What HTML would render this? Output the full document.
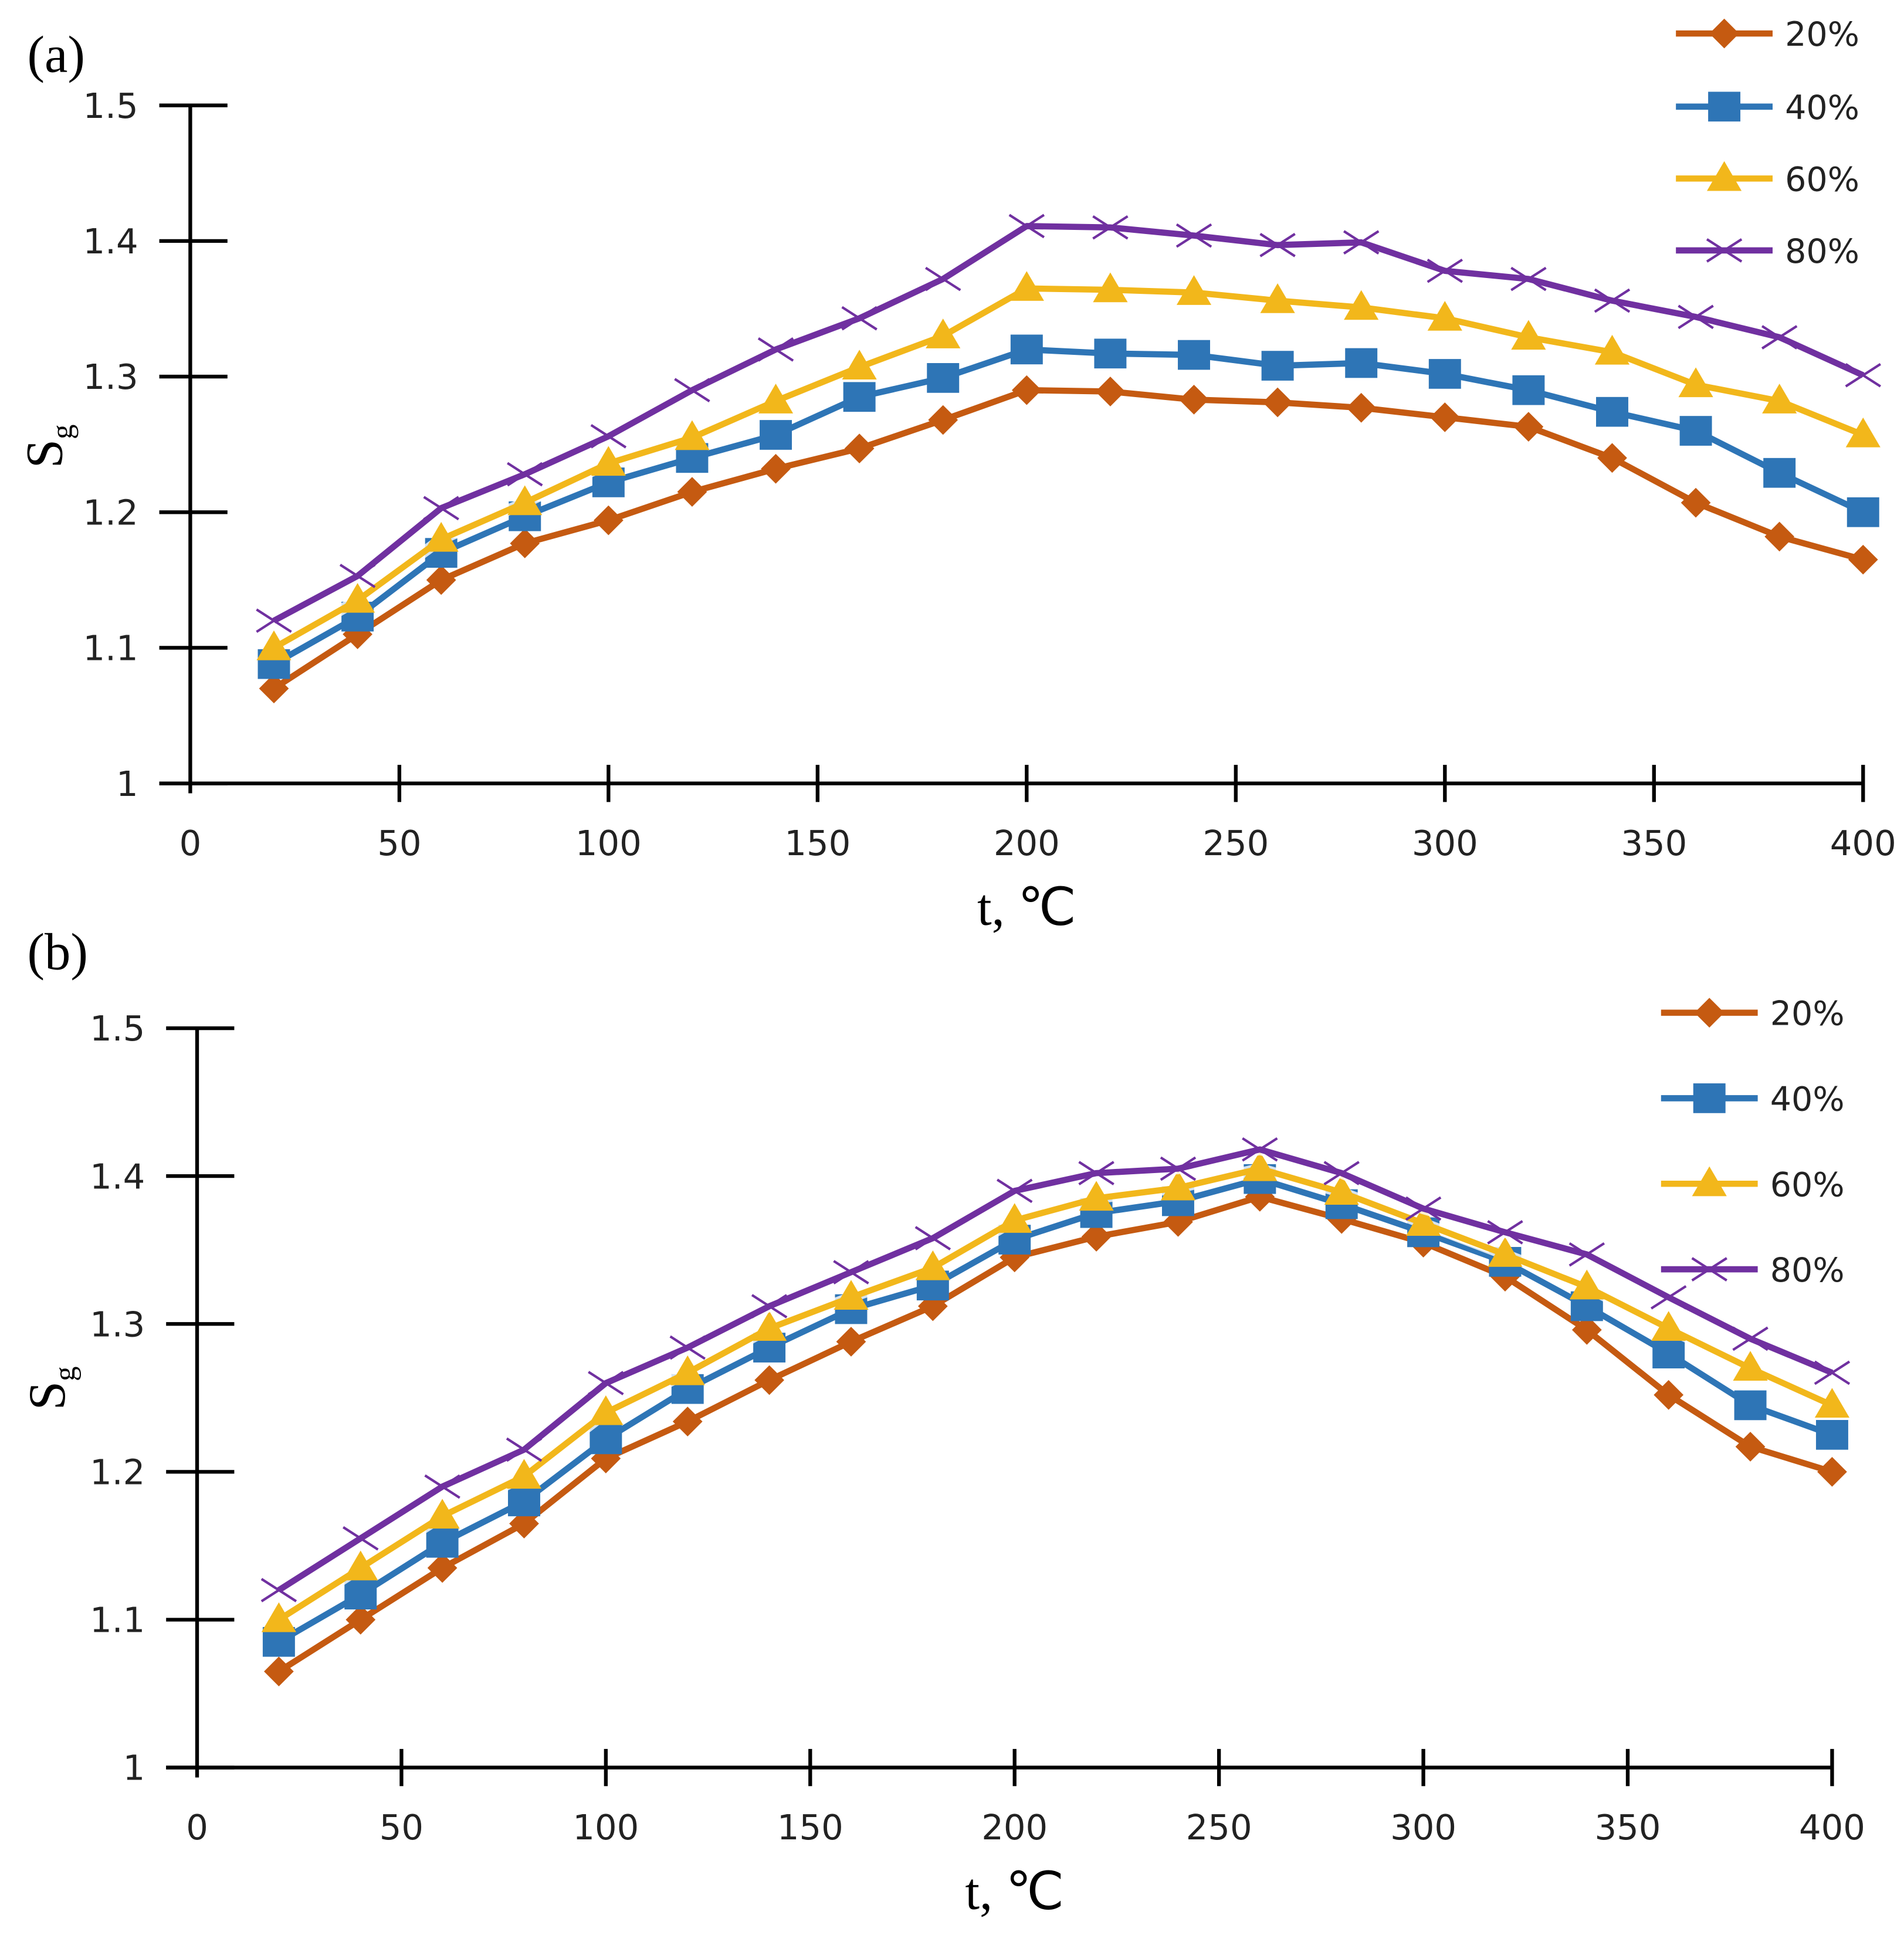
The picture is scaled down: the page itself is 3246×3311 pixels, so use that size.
<!DOCTYPE html>
<html><head><meta charset="utf-8"><style>
html,body{margin:0;padding:0;background:#fff;}
svg{display:block;}
text{font-family:"Liberation Sans",sans-serif;}
.tick{font-size:28px;fill:#222;font-family:"DejaVu Sans","Liberation Sans",sans-serif;}
.leg{font-size:27px;fill:#222;font-family:"DejaVu Sans","Liberation Sans",sans-serif;}
.title{font-family:"Liberation Serif",serif;font-size:42px;fill:#000;}
</style></head><body>
<svg id="chart" width="3246" height="3311" viewBox="0 0 1536 1566.7" xmlns="http://www.w3.org/2000/svg"></svg>
<script>
const xs = [20,40,60,80,100,120,140,160,180,200,220,240,260,280,300,320,340,360,380,400];
const xTicks = [0,50,100,150,200,250,300,350,400];
const yTicks = [1,1.1,1.2,1.3,1.4,1.5];
const yTickLabels = ["1","1.1","1.2","1.3","1.4","1.5"];
const seriesNames = ["20%","40%","60%","80%"];
const a20 = [1.07,1.11,1.15,1.177,1.194,1.215,1.232,1.247,1.268,1.29,1.289,1.283,1.281,1.277,1.27,1.263,1.24,1.207,1.182,1.165];
const a40 = [1.088,1.123,1.17,1.197,1.222,1.24,1.257,1.285,1.299,1.32,1.317,1.316,1.308,1.31,1.302,1.29,1.274,1.26,1.229,1.2];
const a60 = [1.1,1.135,1.18,1.207,1.236,1.255,1.282,1.307,1.33,1.365,1.364,1.362,1.356,1.351,1.343,1.329,1.318,1.294,1.282,1.257];
const a80 = [1.12,1.153,1.203,1.228,1.256,1.29,1.32,1.343,1.372,1.411,1.41,1.404,1.397,1.399,1.378,1.372,1.356,1.344,1.329,1.301];
const b20 = [1.065,1.10,1.135,1.165,1.209,1.234,1.262,1.288,1.312,1.345,1.359,1.369,1.386,1.371,1.355,1.332,1.296,1.252,1.217,1.2];
const b40 = [1.085,1.117,1.152,1.18,1.222,1.256,1.284,1.31,1.326,1.357,1.375,1.383,1.398,1.381,1.362,1.342,1.312,1.28,1.245,1.225];
const b60 = [1.1,1.135,1.17,1.197,1.24,1.267,1.297,1.318,1.338,1.37,1.385,1.392,1.405,1.389,1.368,1.347,1.325,1.297,1.27,1.245];
const b80 = [1.12,1.155,1.19,1.215,1.26,1.284,1.312,1.335,1.358,1.39,1.402,1.405,1.418,1.402,1.378,1.362,1.347,1.318,1.29,1.267];

const NS="http://www.w3.org/2000/svg";
const svg=document.getElementById('chart');
const colors=["#C55A11","#2E75B6","#F2B71B","#7030A0"];
const markers=["diamond","square","triangle","x"];

function mk(tag,attrs,parent){const e=document.createElementNS(NS,tag);for(const k in attrs)e.setAttribute(k,attrs[k]);(parent||svg).appendChild(e);return e;}

function marker(g,type,x,y,c){
  let m;
  if(type==="diamond"){m=mk('polygon',{points:`${x},${y-12} ${x+12},${y} ${x},${y+12} ${x-12},${y}`,fill:c},g);}
  else if(type==="square"){m=mk('rect',{x:x-13,y:y-12,width:26,height:24,fill:c},g);}
  else if(type==="triangle"){m=mk('polygon',{points:`${x},${y-14} ${x+14},${y+10} ${x-14},${y+10}`,fill:c},g);}
  else {m=mk('path',{d:`M${x-14},${y-9}L${x+14},${y+9}M${x-14},${y+9}L${x+14},${y-9}`,stroke:c,'stroke-width':2,fill:'none'},g);}
  return m;
}

function panel(cfg){
  const {x0,x1,y0,y1,data,label,labelY,legX,legYs,titleY,yTitleX,yTitleY,id}=cfg;
  const sx=v=>x0+(v-0)/400*(x1-x0);
  const sy=v=>y0-(v-1)/0.5*(y0-y1);
  const g=mk('g',{});
  
  
  const ax=mk('line',{x1:x0,y1:y1,x2:x0,y2:y0+8,stroke:'#000','stroke-width':3},g);
  
  const axx=mk('line',{x1:x0-25,y1:y0,x2:x1,y2:y0,stroke:'#000','stroke-width':3},g);
  
  yTicks.forEach((v,i)=>{
    mk('line',{x1:x0-25,y1:sy(v),x2:x0+30,y2:sy(v),stroke:'#000','stroke-width':3},g);
    const t=mk('text',{x:x0-42,y:sy(v)+10,'text-anchor':'end',class:'tick'},g);
    t.textContent=yTickLabels[i];
    
  });
  xTicks.forEach(v=>{
    if(v>0) mk('line',{x1:sx(v),y1:y0-15,x2:sx(v),y2:y0+15,stroke:'#000','stroke-width':3},g);
    const t=mk('text',{x:sx(v),y:y0+58,'text-anchor':'middle',class:'tick'},g);
    t.textContent=String(v);
    
  });
  data.forEach((arr,si)=>{
    const sg=mk('g',{},g);
    
    
    const pts=arr.map((v,i)=>sx(xs[i])+','+sy(v)).join(' ');
    mk('polyline',{points:pts,fill:'none',stroke:'#fff','stroke-width':9,'stroke-linejoin':'round',opacity:0.8},sg);
    const pl=mk('polyline',{points:pts,fill:'none',stroke:colors[si],'stroke-width':5,'stroke-linejoin':'round'},sg);
    
    arr.forEach((v,i)=>{
      const m=marker(sg,markers[si],sx(xs[i]),sy(v),colors[si]);
      
      
    });
  });
  const lg=mk('g',{},g);
  
  seriesNames.forEach((n,si)=>{
    const y=legYs[si];
    mk('line',{x1:legX,y1:y,x2:legX+78,y2:y,stroke:colors[si],'stroke-width':5},lg);
    const m=marker(lg,markers[si],legX+39,y,colors[si]);
    
    const t=mk('text',{x:legX+88,y:y+10,class:'leg'},lg);
    t.textContent=n;
    
  });
  const pl=mk('text',{x:22,y:labelY,class:'title'},g);
  pl.textContent=label;
  
  const xt=mk('text',{x:(x0+x1)/2,y:titleY,'text-anchor':'middle',class:'title'},g);
  xt.textContent="t, \u2103";
  
  const yt=mk('text',{x:0,y:0,class:'title',transform:`translate(${yTitleX},${yTitleY}) rotate(-90)`,'text-anchor':'middle'},g);
  yt.innerHTML='S<tspan font-size="24" dy="8">g</tspan>';
  
}

panel({id:'panel-a',x0:153.5,x1:1503,y0:632,y1:85,data:[a20,a40,a60,a80],label:'(a)',labelY:58,
  legX:1352,legYs:[27,86,144,202],titleY:746,yTitleX:50,yTitleY:360});
panel({id:'panel-b',x0:159,x1:1478,y0:1426,y1:829.5,data:[b20,b40,b60,b80],label:'(b)',labelY:782,
  legX:1340,legYs:[817,886,955,1024],titleY:1540,yTitleX:52,yTitleY:1120});
</script>
</body></html>
